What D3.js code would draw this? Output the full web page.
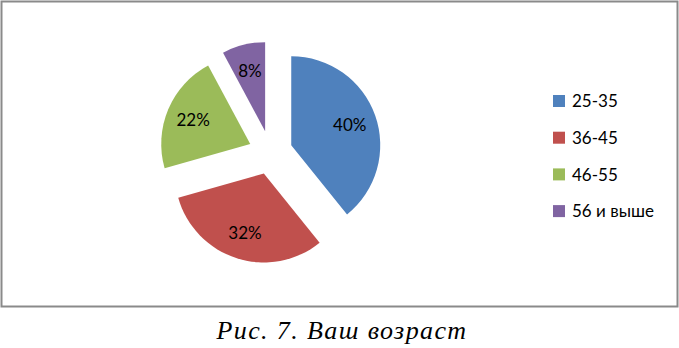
<!DOCTYPE html>
<html>
<head>
<meta charset="utf-8">
<script src="https://cdn.jsdelivr.net/npm/d3@7"></script>
<style>
  body { margin: 0; background: #fff; }
  svg { display: block; }
</style>
</head>
<body>
<svg class="chart"></svg>
<script>
// Размер картинки
var width = 679, height = 348;

// Данные диаграммы
var categories = ["25-35", "36-45", "46-55", "56 и выше"];
var values = [40, 32, 22, 8];
var labels = ["40%", "32%", "22%", "8%"];
var colors = ["#4F81BD", "#C0504D", "#9BBB59", "#8064A2"];
var caption = "Рис. 7. Ваш возраст";

// Геометрия круга
var cx = 270.5, cy = 152.5, radius = 89, explode = 22;

var svg = d3.select(".chart")
    .attr("width", width)
    .attr("height", height);

// Рамка области диаграммы
svg.append("rect")
    .attr("x", 1.5).attr("y", 1.5)
    .attr("width", 676).attr("height", 305)
    .attr("fill", "#fff")
    .attr("stroke", "#8a8a8a")
    .attr("stroke-width", 2);

var pie = d3.pie().sort(null).value(function(d){ return d; });
var arcs = pie(values);

var arc = d3.arc().innerRadius(0).outerRadius(radius);
var labelArc = d3.arc().innerRadius(124).outerRadius(0); // centroid at 62

var g = svg.append("g")
    .attr("transform", "translate(" + cx + "," + cy + ")");

var slice = g.selectAll("g.slice")
    .data(arcs)
  .enter().append("g")
    .attr("class", "slice")
    .attr("transform", function(d) {
        var mid = (d.startAngle + d.endAngle) / 2;
        return "translate(" + (Math.sin(mid) * explode) + "," + (-Math.cos(mid) * explode) + ")";
    });

slice.append("path")
    .attr("d", arc)
    .attr("fill", function(d, i){ return colors[i]; });

slice.append("text")
    .attr("transform", function(d) { return "translate(" + labelArc.centroid(d) + ")"; })
    .attr("text-anchor", "middle")
    .attr("dy", "0.36em")
    .style("font-family", "Lato, 'Open Sans', sans-serif")
    .style("font-size", "17px")
    .attr("fill", "#000")
    .text(function(d, i){ return labels[i]; });

// Легенда
var legend = svg.append("g")
    .attr("transform", "translate(553,101)");

var item = legend.selectAll("g.item")
    .data(categories)
  .enter().append("g")
    .attr("class", "item")
    .attr("transform", function(d, i){ return "translate(0," + (i * 36.7) + ")"; });

item.append("rect")
    .attr("x", 0).attr("y", -6)
    .attr("width", 12).attr("height", 12)
    .attr("fill", function(d, i){ return colors[i]; });

item.append("text")
    .attr("x", 19)
    .attr("dy", "0.36em")
    .style("font-family", "Lato, 'Open Sans', sans-serif")
    .style("font-size", "17px")
    .attr("fill", "#000")
    .text(function(d){ return d; });

// Подпись рисунка
svg.append("text")
    .attr("x", 342)
    .attr("y", 339)
    .attr("text-anchor", "middle")
    .style("font-family", "'Liberation Serif', 'Times New Roman', serif")
    .style("font-style", "italic")
    .style("font-size", "26px")
    .style("letter-spacing", "1.4px")
    .attr("fill", "#000")
    .text(caption);
</script>
</body>
</html>
